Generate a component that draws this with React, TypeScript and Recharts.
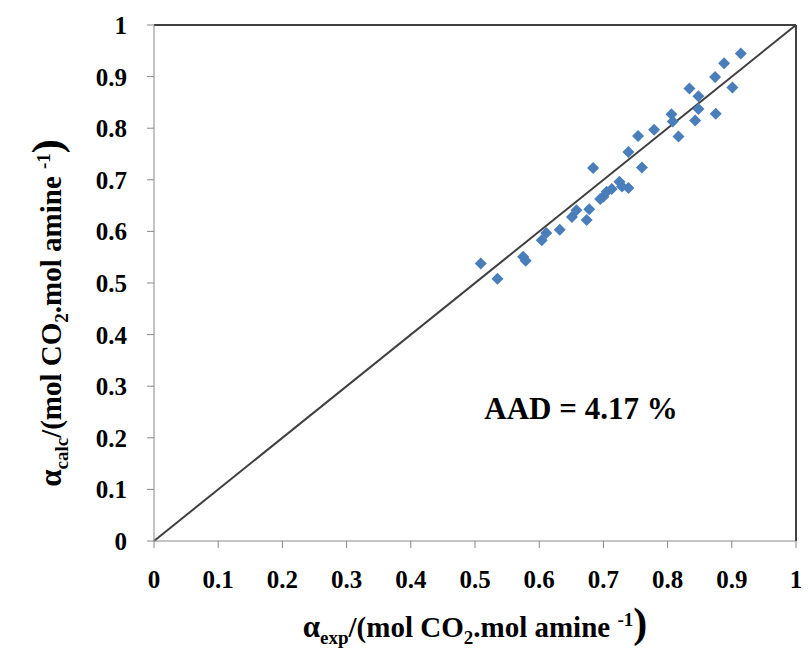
import React from "react";
import {
	ScatterChart,
	Scatter,
	XAxis,
	YAxis,
	ReferenceLine,
	Customized,
} from "recharts";

// experimental vs calculated CO2 loading
const alphaExp = [
	0.509, 0.535, 0.575, 0.579, 0.604, 0.611, 0.632, 0.651, 0.658, 0.674, 0.678,
	0.684, 0.695, 0.7, 0.705, 0.713, 0.725, 0.729, 0.739, 0.739, 0.754, 0.76,
	0.779, 0.806, 0.808, 0.817, 0.834, 0.843, 0.848, 0.848, 0.874, 0.875, 0.888,
	0.901, 0.914,
];
const alphaCalc = [
	0.538, 0.508, 0.551, 0.543, 0.583, 0.597, 0.603, 0.628, 0.641, 0.622, 0.643,
	0.723, 0.663, 0.667, 0.677, 0.682, 0.696, 0.687, 0.684, 0.754, 0.785, 0.724,
	0.797, 0.827, 0.813, 0.784, 0.877, 0.815, 0.862, 0.837, 0.899, 0.828, 0.926,
	0.879, 0.945,
];
const axisTicks = [0, 0.1, 0.2, 0.3, 0.4, 0.5, 0.6, 0.7, 0.8, 0.9, 1];

const data = alphaExp.map((x, i) => ({ x, y: alphaCalc[i] }));

const serif = {
	fontFamily: "Liberation Serif",
	fontWeight: 700,
};

function XTick(props: any) {
	const { x, y, payload } = props;
	return (
		<text
			x={x}
			y={y + 22}
			textAnchor="middle"
			fill="#000"
			style={{ ...serif, fontSize: 25 }}
		>
			{String(payload.value)}
		</text>
	);
}

function YTick(props: any) {
	const { x, y, payload } = props;
	return (
		<text
			x={x}
			y={y + 9}
			textAnchor="end"
			fill="#000"
			style={{ ...serif, fontSize: 25 }}
		>
			{String(payload.value)}
		</text>
	);
}

function Diamond(props: any) {
	const { cx, cy } = props;
	const r = 6;
	return (
		<polygon
			points={`${cx},${cy - r} ${cx + r},${cy} ${cx},${cy + r} ${cx - r},${cy}`}
			fill="#4a7ebb"
		/>
	);
}

function AxisTitle({ sub }: { sub: string }) {
	return (
		<>
			<tspan style={{ ...serif, fontSize: 31 }}>α</tspan>
			<tspan style={{ ...serif, fontSize: 19 }} dy={7}>
				{sub}
			</tspan>
			<tspan style={{ ...serif, fontSize: 29 }} dy={-7}>
				/(mol CO
			</tspan>
			<tspan style={{ ...serif, fontSize: 19 }} dy={7}>
				2
			</tspan>
			<tspan style={{ ...serif, fontSize: 29 }} dy={-7}>
				.mol amine{" "}
			</tspan>
			<tspan style={{ ...serif, fontSize: 19 }} dy={-11}>
				-1
			</tspan>
			<tspan style={{ ...serif, fontSize: 42 }} dy={11}>
				)
			</tspan>
		</>
	);
}

function Texts() {
	return (
		<g fill="#000">
			<text x={581} y={419} textAnchor="middle" style={{ ...serif, fontSize: 31 }}>
				AAD = 4.17 %
			</text>
			<text x={475} y={637} textAnchor="middle" style={{ ...serif, fontSize: 29 }}>
				<AxisTitle sub="exp" />
			</text>
			<text
				x={0}
				y={0}
				textAnchor="middle"
				transform="translate(61,313) rotate(-90)"
				style={{ ...serif, fontSize: 29 }}
			>
				<AxisTitle sub="calc" />
			</text>
		</g>
	);
}

export default function App() {
	return (
		<div style={{ position: "absolute", left: 0, top: 0 }}>
			<ScatterChart
				width={808}
				height={657}
				margin={{ top: 25, right: 12, bottom: 0, left: 0 }}
			>
				<XAxis
					type="number"
					dataKey="x"
					domain={[0, 1]}
					ticks={axisTicks}
					tick={<XTick />}
					tickSize={7}
					tickMargin={18}
					stroke="#888"
					height={116}
					interval={0}
				/>
				<YAxis
					type="number"
					dataKey="y"
					domain={[0, 1]}
					ticks={axisTicks}
					tick={<YTick />}
					tickSize={7}
					tickMargin={20}
					stroke="#888"
					width={154}
					interval={0}
				/>
				<ReferenceLine y={1} stroke="#000" strokeWidth={1.5} />
				<ReferenceLine x={1} stroke="#000" strokeWidth={1.5} />
				<ReferenceLine
					segment={[
						{ x: 0, y: 0 },
						{ x: 1, y: 1 },
					]}
					stroke="#404040"
					strokeWidth={2}
				/>
				<Scatter data={data} shape={Diamond} isAnimationActive={false} />
				<Customized component={Texts} />
			</ScatterChart>
		</div>
	);
}
